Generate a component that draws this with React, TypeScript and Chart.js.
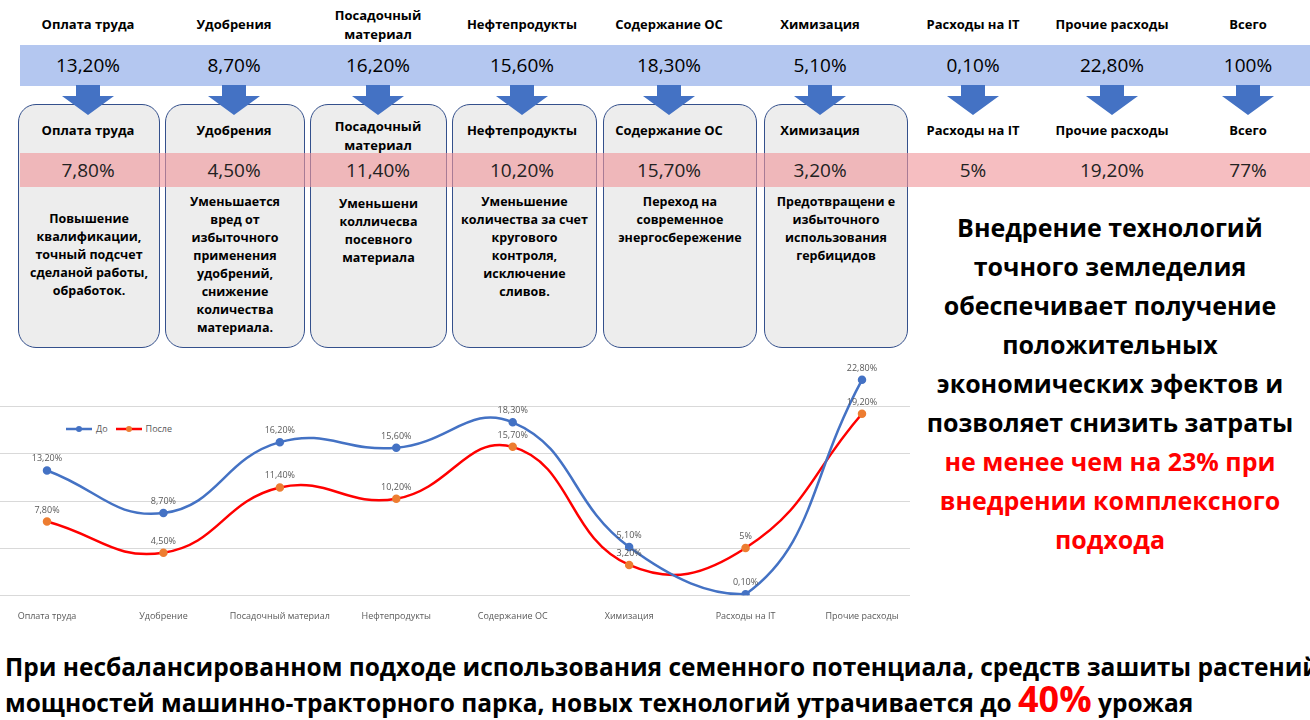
import { useEffect, useRef } from 'react';
import { Chart, registerables } from 'chart.js';

Chart.register(...registerables);

const categories = ['Оплата труда', 'Удобрение', 'Посадочный материал', 'Нефтепродукты', 'Содержание ОС', 'Химизация', 'Расходы на IT', 'Прочие расходы'];
const before = [13.2, 8.7, 16.2, 15.6, 18.3, 5.1, 0.1, 22.8];
const after = [7.8, 4.5, 11.4, 10.2, 15.7, 3.2, 5, 19.2];
const beforeLabels = ['13,20%', '8,70%', '16,20%', '15,60%', '18,30%', '5,10%', '0,10%', '22,80%'];
const afterLabels = ['7,80%', '4,50%', '11,40%', '10,20%', '15,70%', '3,20%', '5%', '19,20%'];

const headers = ['Оплата труда', 'Удобрения', 'Посадочный материал', 'Нефтепродукты', 'Содержание ОС', 'Химизация', 'Расходы на IT', 'Прочие расходы', 'Всего'];
const headerX = [88, 234, 378, 522, 669, 820, 973, 1112, 1248];
const topValues = [...beforeLabels, '100%'];
const bottomValues = [...afterLabels, '77%'];
const boxes: [number, number][] = [[18, 160], [165, 305], [310, 447], [452, 597], [603, 757], [764, 908]];
const notes = [
  'Повышение квалификации, точный подсчет сделаной работы, обработок.',
  'Уменьшается вред от избыточного применения удобрений, снижение количества материала.',
  'Уменьшени колличесва посевного материала',
  'Уменьшение количества за счет кругового контроля, исключение сливов.',
  'Переход на современное энергосбережение',
  'Предотвращени е избыточного использования гербицидов',
];
const noteTop = [210, 193, 195, 193, 193, 193];

const font = "'Liberation Sans Narrow', 'Open Sans', Arial, sans-serif";

const Arrow = ({ x }: { x: number }) => (
  <svg style={{ position: 'absolute', left: x - 26, top: 85 }} width={52} height={30}>
    <polygon points="14,0 38,0 38,11 52,11 26,30 0,11 14,11" fill="#4472c4" />
  </svg>
);

function LineChart() {
  const ref = useRef<HTMLCanvasElement>(null);
  useEffect(() => {
    if (!ref.current) return;
    const labelsPlugin = {
      id: 'vals',
      beforeDatasetsDraw(chart: any) {
        const { ctx } = chart;
        const y = chart.scales.y;
        ctx.save();
        ctx.strokeStyle = '#d9d9d9';
        ctx.lineWidth = 1;
        [0, 5, 10, 15, 20].forEach((v) => {
          const py = Math.round(y.getPixelForValue(v)) + 0.5;
          ctx.beginPath();
          ctx.moveTo(0, py);
          ctx.lineTo(chart.width, py);
          ctx.stroke();
        });
        ctx.restore();
      },
      afterDatasetsDraw(chart: any) {
        const { ctx } = chart;
        ctx.save();
        ctx.font = `9px ${font}`;
        ctx.fillStyle = '#595959';
        ctx.textAlign = 'center';
        [beforeLabels, afterLabels].forEach((lbls, di) => {
          chart.getDatasetMeta(di).data.forEach((p: any, i: number) => {
            ctx.fillText(lbls[i], p.x, p.y - 9);
          });
        });
        ctx.restore();
      },
    };
    const chart = new Chart(ref.current, {
      type: 'line',
      data: {
        labels: categories,
        datasets: [
          { label: 'До', data: before, borderColor: '#4472c4', backgroundColor: '#4472c4', borderWidth: 2.5, pointRadius: 3, tension: 0.45 },
          { label: 'После', data: after, borderColor: '#ff0000', backgroundColor: '#ed7d31', pointBorderColor: '#ed7d31', borderWidth: 2.5, pointRadius: 3, tension: 0.45 },
        ],
      },
      options: {
        animation: false,
        responsive: false,
        maintainAspectRatio: false,
        layout: { padding: { left: 47, right: 48, top: 19, bottom: 2 } },
        plugins: { legend: { display: false }, tooltip: { enabled: false } },
        scales: {
          x: {
            offset: false,
            grid: { display: false },
            border: { display: false },
            ticks: { font: { size: 9, family: font }, color: '#595959', padding: 8, maxRotation: 0, autoSkip: false },
          },
          y: {
            min: 0,
            max: 25,
            grid: { display: false, drawTicks: false },
            border: { display: false },
            ticks: { display: false },
          },
        },
      },
      plugins: [labelsPlugin],
    });
    return () => chart.destroy();
  }, []);
  return <canvas ref={ref} width={910} height={292} style={{ position: 'absolute', left: 0, top: 340, width: 910, height: 292 }} />;
}

export default function App() {
  return (
    <div style={{ position: 'fixed', left: 0, top: 0, width: 1310, height: 720, background: '#fff', fontFamily: font, overflow: 'hidden' }}>
      <div style={{ position: 'absolute', left: 20, top: 45, width: 1290, height: 41, background: '#b4c7f0' }} />
      {boxes.map(([l, r], i) => (
        <div key={i} style={{ position: 'absolute', left: l, top: 104, width: r - l, height: 244, background: '#ededed', border: '1px solid #34508c', borderRadius: 18, boxSizing: 'border-box' }} />
      ))}
      <div style={{ position: 'absolute', left: 20, top: 153, width: 1290, height: 34, background: 'rgba(240,150,155,0.62)' }} />
      {headers.map((h, i) => (
        <div key={i}>
          <div style={{ position: 'absolute', left: headerX[i] - 75, width: 150, top: i === 2 ? 6 : 15, textAlign: 'center', fontWeight: 'bold', fontSize: 13, lineHeight: '19px' }}>
            {i === 2 ? <>Посадочный<br />материал</> : h}
          </div>
          <div style={{ position: 'absolute', left: headerX[i] - 75, width: 150, top: 53, textAlign: 'center', fontSize: 19, lineHeight: '24px' }}>{topValues[i]}</div>
          <Arrow x={headerX[i]} />
          <div style={{ position: 'absolute', left: headerX[i] - 75, width: 150, top: i === 2 ? 117 : 121, textAlign: 'center', fontWeight: 'bold', fontSize: 13, lineHeight: '19px' }}>
            {i === 2 ? <>Посадочный<br />материал</> : h}
          </div>
          <div style={{ position: 'absolute', left: headerX[i] - 75, width: 150, top: 158, textAlign: 'center', fontSize: 19, lineHeight: '24px', color: '#222' }}>{bottomValues[i]}</div>
        </div>
      ))}
      {notes.map((n, i) => (
        <div key={i} style={{ position: 'absolute', left: boxes[i][0] + 8, width: boxes[i][1] - boxes[i][0] - 16, top: noteTop[i], textAlign: 'center', fontWeight: 'bold', fontSize: 12.5, lineHeight: '18px' }}>{n}</div>
      ))}
      <div style={{ position: 'absolute', left: 912, width: 396, top: 208, textAlign: 'center', fontWeight: 'bold', fontSize: 25, lineHeight: '39px' }}>
        Внедрение технологий точного земледелия обеспечивает получение положительных экономических эфектов и позволяет снизить затраты{' '}
        <span style={{ color: '#ff0000' }}>не менее чем на 23% при внедрении комплексного подхода</span>
      </div>
      <div style={{ position: 'absolute', left: 66, top: 422, fontSize: 9, color: '#595959', display: 'flex', alignItems: 'center', gap: 4 }}>
        <svg width={26} height={8}><line x1={0} y1={4} x2={26} y2={4} stroke="#4472c4" strokeWidth={2.5} /><circle cx={13} cy={4} r={3} fill="#4472c4" /></svg>
        <span>До</span>
        <svg width={26} height={8} style={{ marginLeft: 4 }}><line x1={0} y1={4} x2={26} y2={4} stroke="#ff0000" strokeWidth={2.5} /><circle cx={13} cy={4} r={3} fill="#ed7d31" /></svg>
        <span>После</span>
      </div>
      <LineChart />
      <div style={{ position: 'absolute', left: 5, top: 650, width: 1310, fontWeight: 'bold', fontSize: 24.5, lineHeight: '34px', whiteSpace: 'nowrap' }}>
        При несбалансированном подходе использования семенного потенциала, средств зашиты растений,<br />
        мощностей машинно-тракторного парка, новых технологий утрачивается до{' '}
        <span style={{ color: '#ff0000', fontSize: 36, lineHeight: '30px' }}>40%</span> урожая
      </div>
    </div>
  );
}
